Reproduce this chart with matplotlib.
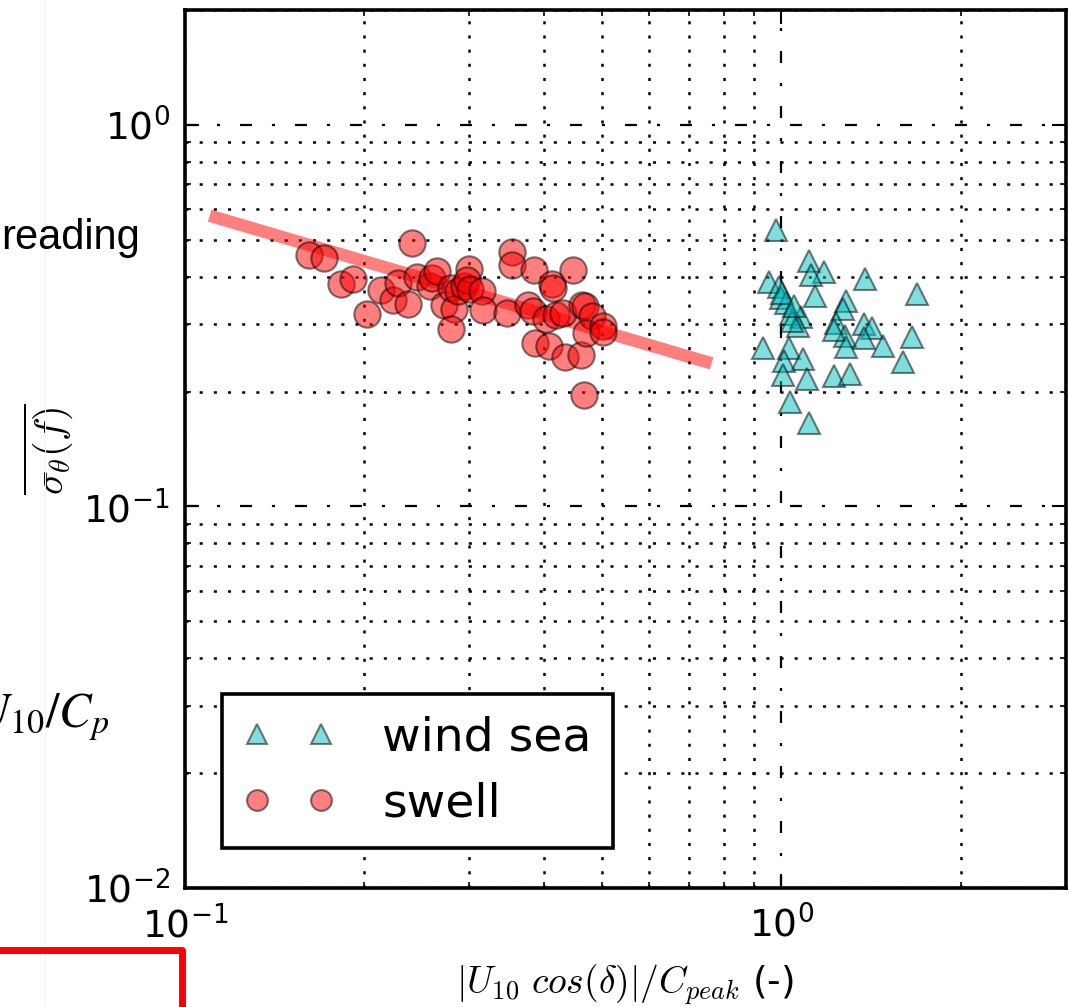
import numpy as np
import matplotlib.pyplot as plt
from matplotlib.lines import Line2D
from matplotlib.ticker import NullFormatter

# ------- data -------
swell_x = [0.1615, 0.1709, 0.2403, 0.1826, 0.1910, 0.2023, 0.2130, 0.2237, 0.2277, 0.2366,
           0.2447, 0.2580, 0.2596, 0.2651, 0.2719, 0.2798, 0.2823, 0.2798, 0.2870, 0.2933,
           0.2990, 0.2971, 0.3001, 0.3153, 0.3160, 0.3470, 0.3533, 0.3533, 0.3853, 0.3754,
           0.3832, 0.3862, 0.4025, 0.4072, 0.4124, 0.4134, 0.4195, 0.4303, 0.4343, 0.4470,
           0.4606, 0.4637, 0.4677, 0.4818, 0.4695, 0.5020, 0.5020, 0.4660]
swell_y = [0.456, 0.447, 0.489, 0.383, 0.394, 0.3195, 0.370, 0.3467, 0.385, 0.3385,
           0.400, 0.378, 0.398, 0.413, 0.338, 0.3737, 0.3286, 0.2912, 0.3676, 0.379,
           0.419, 0.392, 0.3715, 0.366, 0.328, 0.3213, 0.463, 0.430, 0.4173, 0.3365,
           0.326, 0.2683, 0.310, 0.2628, 0.383, 0.3737, 0.318, 0.322, 0.246, 0.4173,
           0.2496, 0.3365, 0.335, 0.316, 0.285, 0.2977, 0.286, 0.1953]

wind_x = [0.980, 1.111, 1.177, 1.121, 0.952, 0.992, 1.383, 1.691, 1.140, 0.999,
          1.018, 1.283, 1.267, 1.038, 1.079, 1.235, 1.377, 1.419, 1.065, 1.280,
          1.377, 1.227, 1.659, 1.478, 1.283, 0.933, 1.031, 1.086, 1.012, 1.601,
          1.005, 1.103, 1.224, 1.304, 1.035, 1.114, 1.044, 1.003, 1.051]
wind_y = [0.529, 0.4406, 0.4105, 0.405, 0.3866, 0.3765, 0.3945, 0.361, 0.355, 0.3518,
          0.3405, 0.3461, 0.3293, 0.3195, 0.313, 0.302, 0.3008, 0.2929, 0.2977, 0.2803,
          0.2765, 0.290, 0.2786, 0.264, 0.2623, 0.2597, 0.2597, 0.2435, 0.2411, 0.2386,
          0.2216, 0.2159, 0.2203, 0.2226, 0.1883, 0.1652, 0.307, 0.363, 0.336]

fit_x = [0.110, 0.764]
fit_y = [0.578, 0.237]

# ------- style -------
plt.rcParams['mathtext.fontset'] = 'cm'
plt.rcParams['lines.scale_dashes'] = False
plt.rcParams['axes.unicode_minus'] = False

fig = plt.figure(figsize=(10.69, 10.07), dpi=100)
ax = fig.add_axes([0.173, 0.1182, 0.8241, 0.8719])

ax.plot(fit_x, fit_y, '-', color='red', lw=9, alpha=0.5, solid_capstyle='butt')
ax.plot(wind_x, wind_y, '^', ms=16, color='c', mec='k', mew=1.5, alpha=0.5, ls='none')
ax.plot(swell_x, swell_y, 'o', ms=19, color='red', mec='k', mew=1.5, alpha=0.5, ls='none')

ax.set_xscale('log')
ax.set_yscale('log')
ax.set_xlim(0.1, 3)
ax.set_ylim(0.01, 2)
ax.xaxis.set_minor_formatter(NullFormatter())
ax.yaxis.set_minor_formatter(NullFormatter())

ax.grid(True, which='major', color='k', linestyle=(0, (8.6, 14.4, 2.2, 14.4)), linewidth=1.6)
ax.grid(True, which='minor', color='k', linestyle=(0, (2.2, 8.0)), linewidth=1.8)
ax.set_axisbelow(True)

ax.tick_params(which='both', direction='in', top=True, right=True, labelsize=27)
ax.tick_params(axis='x', which='both', pad=13)
ax.tick_params(axis='y', which='both', pad=11)
ax.tick_params(which='major', length=10, width=1.5)
ax.tick_params(which='minor', length=4, width=1.2)
for sp in ax.spines.values():
    sp.set_linewidth(2.6)

ax.set_xlabel(r'$|U_{10}\ cos(\delta)|/C_{peak}$ (-)', fontsize=27, labelpad=12)
ax.set_ylabel(r'$\overline{\sigma_\theta(f)}$', fontsize=29, labelpad=6)

handles = [Line2D([], [], marker='^', ms=15, color='c', mec='k', mew=1.5, alpha=0.5, ls='none'),
           Line2D([], [], marker='o', ms=15, color='red', mec='k', mew=1.5, alpha=0.5, ls='none')]
leg = ax.legend(handles, ['wind sea', 'swell'], loc='lower left', bbox_to_anchor=(0.042, 0.0456),
                borderaxespad=0, numpoints=2, fontsize=34, handlelength=1.94, handletextpad=1.0,
                borderpad=0.45, labelspacing=0.45, fancybox=False, framealpha=1)
leg.get_frame().set_edgecolor('k')
leg.get_frame().set_linewidth(2.6)

# fragments of neighbouring content in the screenshot
fig.text(140 / 1069, 1 - 238 / 1007, 'reading', fontsize=30, family='Liberation Sans',
         ha='right', va='center')
fig.text(109 / 1069, 1 - 727 / 1007, r'$U_{10}/C_p$', fontsize=35, math_fontfamily='stix',
         ha='right', va='baseline')
fig.add_artist(Line2D([45 / 1069, 45 / 1069], [0, 1], transform=fig.transFigure,
                      color='#f3f3f3', lw=0.8))
fig.add_artist(Line2D([0, 182 / 1069, 182 / 1069], [1 - 950 / 1007, 1 - 950 / 1007, 0],
                      transform=fig.transFigure, color='red', lw=5, solid_joinstyle='round'))

fig.savefig('out.png', dpi=100)
